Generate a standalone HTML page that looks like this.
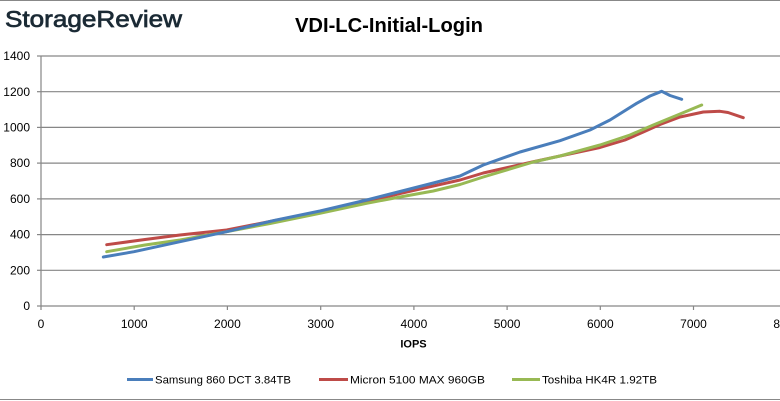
<!DOCTYPE html>
<html><head><meta charset="utf-8"><style>
html,body{margin:0;padding:0;background:#fff;}
svg{display:block;}
</style></head><body>
<svg width="780" height="401" viewBox="0 0 780 401" xmlns="http://www.w3.org/2000/svg">
<rect width="780" height="401" fill="#fff"/>
<line x1="0" y1="0.5" x2="780" y2="0.5" stroke="#888" stroke-width="1"/>
<line x1="0" y1="399.5" x2="780" y2="399.5" stroke="#888" stroke-width="1"/>
<text x="5" y="27" font-family="Liberation Sans, sans-serif" font-size="23" fill="#1b2a35" stroke="#1b2a35" stroke-width="0.7" textLength="177" lengthAdjust="spacingAndGlyphs">StorageReview</text>
<text x="389" y="32" font-family="Liberation Sans, sans-serif" font-size="20" font-weight="bold" fill="#000" text-anchor="middle" textLength="188" lengthAdjust="spacingAndGlyphs">VDI-LC-Initial-Login</text>
<g stroke="#868686" stroke-width="1.2">
<line x1="41" y1="56" x2="780" y2="56"/>
<line x1="41" y1="91.7" x2="780" y2="91.7"/>
<line x1="41" y1="127.4" x2="780" y2="127.4"/>
<line x1="41" y1="163.1" x2="780" y2="163.1"/>
<line x1="41" y1="198.9" x2="780" y2="198.9"/>
<line x1="41" y1="234.6" x2="780" y2="234.6"/>
<line x1="41" y1="270.3" x2="780" y2="270.3"/>
<line x1="41" y1="306" x2="780" y2="306"/>
<line x1="41" y1="56" x2="41" y2="306"/>
<line x1="37" y1="56" x2="41" y2="56"/>
<line x1="37" y1="91.7" x2="41" y2="91.7"/>
<line x1="37" y1="127.4" x2="41" y2="127.4"/>
<line x1="37" y1="163.1" x2="41" y2="163.1"/>
<line x1="37" y1="198.9" x2="41" y2="198.9"/>
<line x1="37" y1="234.6" x2="41" y2="234.6"/>
<line x1="37" y1="270.3" x2="41" y2="270.3"/>
<line x1="37" y1="306" x2="41" y2="306"/>
<line x1="41" y1="306" x2="41" y2="310"/>
<line x1="134.2" y1="306" x2="134.2" y2="310"/>
<line x1="227.4" y1="306" x2="227.4" y2="310"/>
<line x1="320.7" y1="306" x2="320.7" y2="310"/>
<line x1="413.9" y1="306" x2="413.9" y2="310"/>
<line x1="507.1" y1="306" x2="507.1" y2="310"/>
<line x1="600.3" y1="306" x2="600.3" y2="310"/>
<line x1="693.5" y1="306" x2="693.5" y2="310"/>
</g>
<g font-family="Liberation Sans, sans-serif" font-size="12" fill="#000" text-anchor="end">
<text x="30" y="60">1400</text>
<text x="30" y="96">1200</text>
<text x="30" y="131.5">1000</text>
<text x="30" y="167">800</text>
<text x="30" y="203">600</text>
<text x="30" y="238.5">400</text>
<text x="30" y="274.5">200</text>
<text x="30" y="310">0</text>
</g>
<g font-family="Liberation Sans, sans-serif" font-size="12" fill="#000" text-anchor="middle">
<text x="41" y="328">0</text>
<text x="134.2" y="328">1000</text>
<text x="227.4" y="328">2000</text>
<text x="320.7" y="328">3000</text>
<text x="413.9" y="328">4000</text>
<text x="507.1" y="328">5000</text>
<text x="600.3" y="328">6000</text>
<text x="693.5" y="328">7000</text>
<text x="786.7" y="328">8000</text>
</g>
<text x="413.5" y="347.5" font-family="Liberation Sans, sans-serif" font-size="11" font-weight="bold" text-anchor="middle">IOPS</text>
<g fill="none" stroke-width="3" stroke-linejoin="round" stroke-linecap="round">
<polyline stroke="#be4b48" points="106.7,244.7 145,239.5 180,235 226.7,230 270,221.5 320,211.7 366.7,201.7 400,193.5 433.3,186 460,180 483.3,173 533.3,161.7 560,156 600,147.5 625,140 643.3,132 660,124.5 680,117 703.3,112 720,111.3 728,112.5 743.3,117.7"/>
<polyline stroke="#98b954" points="106.7,251.7 145,245 180,240 226.7,231.7 270,223.5 320,213.3 366.7,203.3 400,197 433.3,191 460,184.5 483.3,177 533.3,162 560,156 600,145 630,135 653.3,125 680,114 701.7,105"/>
<polyline stroke="#4a7ebb" points="103.3,257 134,251.7 180,241.7 226.7,231.7 274,220.5 320,211 366.7,200 400,191.5 433.3,183 460,176 483.3,165 520,152 560,140.7 590,130 610,120 636.7,103.3 650,96 661.7,91.3 670,95.5 681.7,99.3"/>
</g>
<g stroke-width="3">
<line x1="127" y1="379.5" x2="153" y2="379.5" stroke="#4a7ebb"/>
<line x1="319" y1="379.5" x2="348" y2="379.5" stroke="#be4b48"/>
<line x1="512" y1="379.5" x2="540" y2="379.5" stroke="#98b954"/>
</g>
<g font-family="Liberation Sans, sans-serif" font-size="11" fill="#000">
<text x="155" y="383.5" textLength="136" lengthAdjust="spacingAndGlyphs">Samsung 860 DCT 3.84TB</text>
<text x="350" y="383.5" textLength="135" lengthAdjust="spacingAndGlyphs">Micron 5100 MAX 960GB</text>
<text x="542" y="383.5" textLength="115" lengthAdjust="spacingAndGlyphs">Toshiba HK4R 1.92TB</text>
</g>
</svg>
</body></html>
